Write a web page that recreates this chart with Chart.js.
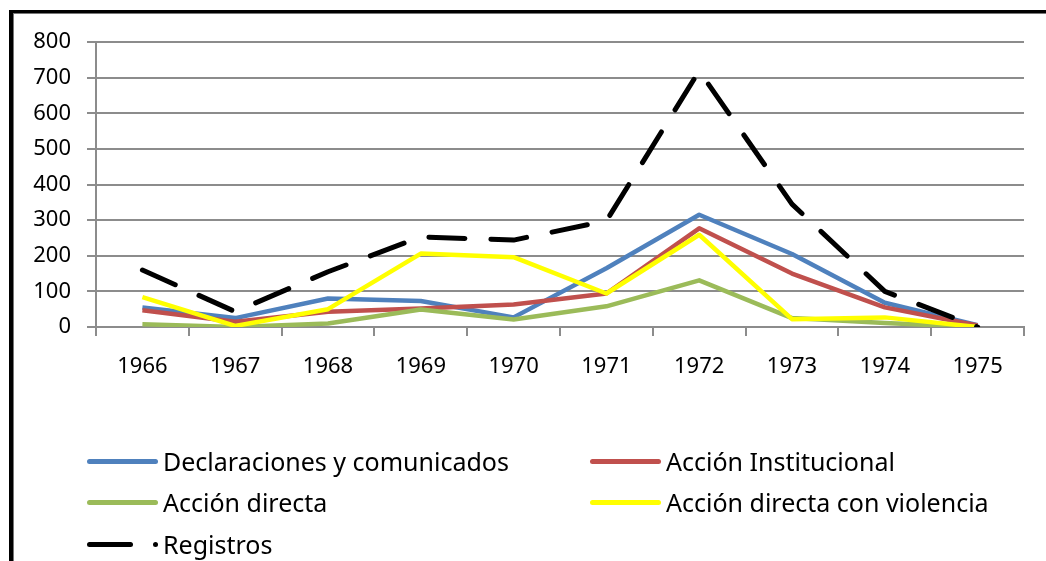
<!DOCTYPE html>
<html>
<head>
<meta charset="utf-8">
<script src="https://cdn.jsdelivr.net/npm/chart.js@4"></script>
<style>
  html, body { margin: 0; padding: 0; background: #fff; }
  #wrap { position: relative; width: 1046px; height: 561px; overflow: hidden; font-family: "Noto Sans", sans-serif; }
  #frame { position: absolute; left: 9px; top: 10px; width: 1100px; height: 600px;
           border-left: 4px solid #000; border-top: 3px solid #000; box-shadow: inset 1px 1px 0 #777; }
  canvas { position: absolute; left: 0; top: 0; }
  .item { position: absolute; font-size: 25px; color: #000; line-height: 32px; white-space: nowrap; }
  .swatch { position: absolute; height: 5px; border-radius: 3px; }
</style>
</head>
<body>
<div id="wrap">
  <div id="frame"></div>
  <canvas id="myChart" width="1046" height="561"></canvas>
  <div id="legend"></div>
</div>
<script>
const years = ['1966', '1967', '1968', '1969', '1970', '1971', '1972', '1973', '1974', '1975'];
const declaraciones = [55, 25, 80, 73, 27, 165, 315, 205, 68, 5];
const institucional = [47, 15, 43, 52, 63, 94, 277, 150, 55, 4];
const directa = [8, 0, 10, 49, 21, 58, 131, 25, 11, 0];
const violencia = [84, 3, 50, 206, 196, 94, 259, 22, 27, 0];
const registros = [160, 43, 155, 253, 244, 298, 719, 345, 100, 0];
const yTicks = [0, 100, 200, 300, 400, 500, 600, 700, 800];

const names = ['Declaraciones y comunicados', 'Acción Institucional', 'Acción directa', 'Acción directa con violencia', 'Registros'];
const colors = ['#4F81BD', '#C0504D', '#9BBB59', '#FFFF00', '#000000'];
const series = [declaraciones, institucional, directa, violencia, registros];

const datasets = series.map((vals, i) => ({
  label: names[i],
  data: vals,
  borderColor: colors[i],
  backgroundColor: colors[i],
  borderWidth: i == 4 ? 5 : 4.5,
  borderDash: i == 4 ? [36, 26] : [],
  borderCapStyle: i == 4 ? 'round' : 'butt',
  borderJoinStyle: 'round',
  pointRadius: 0,
  tension: 0,
  order: i == 4 ? 0 : 5 - i
}));

const config = {
  type: 'line',
  data: { labels: years, datasets: datasets },
  options: {
    responsive: false,
    animation: false,
    layout: { padding: { top: 42, right: 22, left: 0, bottom: 0 } },
    plugins: { legend: { display: false }, tooltip: { enabled: false } },
    scales: {
      x: {
        offset: true,
        grid: { offset: true, drawOnChartArea: false, drawTicks: true, tickLength: 9, color: '#8c8c8c', lineWidth: 2 },
        border: { display: true, color: '#8c8c8c', width: 2 },
        ticks: { color: '#000', font: { family: 'Noto Sans', size: 22 }, padding: 18, maxRotation: 0 },
        afterFit: s => { s.height = 234; }
      },
      y: {
        min: 0, max: 800,
        afterBuildTicks: s => { s.ticks = yTicks.map(v => ({ value: v })); },
        grid: { color: '#8c8c8c', lineWidth: 2, tickLength: 9 },
        border: { display: true, color: '#8c8c8c', width: 2 },
        ticks: { color: '#000', font: { family: 'Noto Sans', size: 22 }, padding: 16 },
        afterFit: s => { s.width = 96; }
      }
    }
  }
};

const myChart = new Chart(document.getElementById('myChart'), config);

// leyenda en dos columnas como en el original
const legend = document.getElementById('legend');
const slots = [[87, 462], [590, 462], [87, 503], [590, 503], [87, 545]];
slots.forEach((p, i) => {
  const x = p[0], y = p[1];
  if (i < 4) {
    const sw = document.createElement('div');
    sw.className = 'swatch';
    sw.style.left = x + 'px'; sw.style.top = (y - 3) + 'px'; sw.style.width = '71px';
    sw.style.background = colors[i];
    legend.appendChild(sw);
  } else {
    const sw = document.createElement('div');
    sw.className = 'swatch';
    sw.style.left = x + 'px'; sw.style.top = (y - 3) + 'px'; sw.style.width = '46px';
    sw.style.background = colors[i];
    legend.appendChild(sw);
    const dot = document.createElement('div');
    dot.className = 'swatch';
    dot.style.left = (x + 66) + 'px'; dot.style.top = (y - 3) + 'px'; dot.style.width = '5px';
    dot.style.background = colors[i];
    legend.appendChild(dot);
  }
  const t = document.createElement('div');
  t.className = 'item';
  t.textContent = names[i];
  t.style.left = (x + 76) + 'px'; t.style.top = (y - 17) + 'px';
  legend.appendChild(t);
});
</script>
</body>
</html>
